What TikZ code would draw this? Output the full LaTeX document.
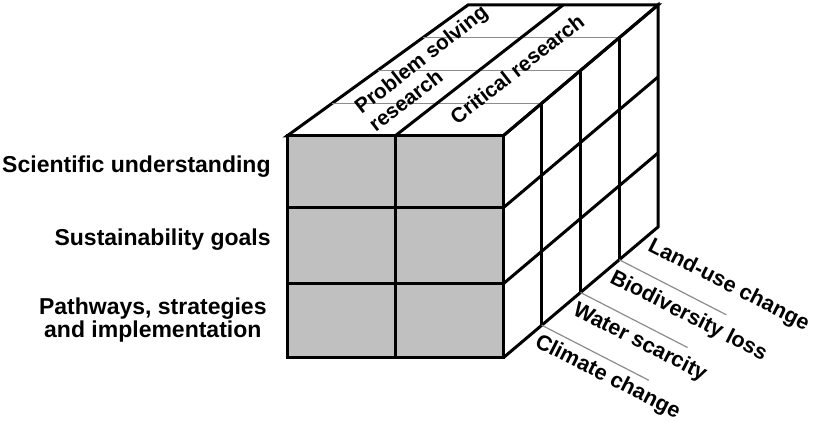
\documentclass[tikz,border=0pt]{standalone}
\usepackage{fontspec}
\setmainfont{Liberation Sans}
\definecolor{facegray}{HTML}{C0C0C0}

\begin{document}
\begin{tikzpicture}[x=0.5pt,y=-0.5pt,
    edge/.style={line width=1.5pt},
    guide/.style={line width=0.6pt,draw=black!45},
    rowlabel/.style={font=\fontsize{11.5}{11.8}\selectfont\bfseries,align=center,anchor=east,inner sep=0pt},
    toplabel/.style={font=\fontsize{10.4}{11.6}\selectfont\bfseries,rotate=38,align=left,inner sep=0pt},
    issue/.style={font=\fontsize{10.8}{12}\selectfont\bfseries,rotate=-27,anchor=west,inner sep=0pt}]
\useasboundingbox (0,0) rectangle (815,422);

% top face, split into two columns and four thin slices
\filldraw[edge,fill=white] (287,136) -- (468,5) -- (658,5) -- (503,136) -- cycle;
\foreach \t in {1,2,3}
   \draw[guide] (287+45.25*\t,136-32.75*\t) -- (503+38.75*\t,136-32.75*\t);
\draw[edge] (395,136) -- (563,5);

% right face: four slices by three rows
\draw[edge] (503,136) -- (658,5) -- (658,227) -- (503,358);
\foreach \t in {1,2,3}
   \draw[edge] (503+38.75*\t,136-32.75*\t) -- (503+38.75*\t,358-32.75*\t);
\foreach \y in {208,284}
   \draw[edge] (503,\y) -- (658,\y-131);

% front face, 2 x 3 cells
\filldraw[edge,fill=facegray] (287,136) rectangle (503,358);
\draw[edge] (395,136) -- (395,358);
\draw[edge] (287,208) -- (503,208);
\draw[edge] (287,284) -- (503,284);

% separators under the slices
\foreach \t in {1,2,3}
   \draw[guide] (503+38.75*\t,358-32.75*\t) -- ++(107,55);

% labels
\node[rowlabel] (sci)   at (271,167) {Scientific understanding};
\node[rowlabel] (goals) at (271,240) {Sustainability goals};
\node[rowlabel] (paths) at (267,320) {Pathways, strategies\\and implementation};

\node[toplabel] (psr)  at (428,68) {Problem solving\\research};
\node[toplabel] (crit) at (517,69) {Critical research};

\node[issue] (climate) at (536,341) {Climate change};
\node[issue] (water)   at (574,309) {Water scarcity};
\node[issue] (biodiv)  at (611,277) {Biodiversity loss};
\node[issue] (landuse) at (649,245) {Land-use change};
\end{tikzpicture}
\end{document}
